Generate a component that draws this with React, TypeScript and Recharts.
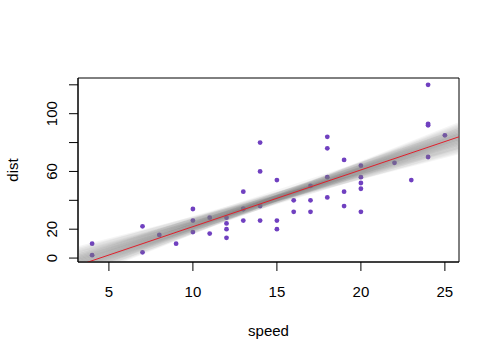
import { ComposedChart, Line, ReferenceArea, Scatter, XAxis, YAxis } from "recharts"

const speeds = [4, 4, 7, 7, 8, 9, 10, 10, 10, 11, 11, 12, 12, 12, 12, 13, 13, 13, 13, 14, 14, 14, 14, 15, 15, 15, 16, 16, 17, 17, 17, 18, 18, 18, 18, 19, 19, 19, 20, 20, 20, 20, 20, 22, 23, 24, 24, 24, 24, 25]
const dists = [2, 10, 4, 22, 16, 10, 18, 26, 34, 17, 28, 14, 20, 24, 28, 26, 34, 34, 46, 26, 36, 60, 80, 20, 26, 54, 32, 40, 32, 40, 50, 42, 56, 76, 84, 36, 46, 68, 32, 48, 52, 56, 64, 66, 54, 70, 92, 93, 120, 85]

// plot box range (R pads the data range by 4%)
const xDomain = [3.16, 25.84]
const yDomain = [-2.72, 124.72]
// red fitted line, dist at the two ends
const fitEnds = [-5.1, 84.0]
// grey bootstrap fits, dist at the left and right ends
const bootLeft = [-5, -2, -8, 0, -11, 3, -3, -7, 1, -9, 5, -13, -4, -1, -6, 2, -10, -2, 4, -7, -5, 0, -3, 6, -12, -4, -8, 1, -1, -6]
const bootRight = [84, 81, 87, 79, 90, 77, 83, 85, 82, 88, 75, 92, 86, 80, 83, 78, 86, 85, 80, 89, 81, 84, 78, 74, 91, 82, 84, 76, 87, 88]

const xTicks = [5, 10, 15, 20, 25]
const yTicks = [0, 20, 40, 60, 80, 100, 120]
const yLabels = [0, 20, 60, 100]

const points = speeds.map((s, i) => ({ speed: s, dist: dists[i] }))
const lines = xDomain.map((s, i) => {
  const row: Record<string, number> = { speed: s, fit: fitEnds[i] }
  bootLeft.forEach((v, j) => {
    row["b" + j] = i === 0 ? v : bootRight[j]
  })
  return row
})

const font = "'Liberation Sans', Arial, sans-serif"

const XTick = ({ x, payload }: any) => (
  <text x={x} y={297} textAnchor="middle" fontSize={15} fontFamily={font} fill="#000">
    {payload.value}
  </text>
)

const YTick = ({ y, payload }: any) => {
  if (!yLabels.includes(payload.value)) return <g />
  return (
    <text x={57} y={y} transform={`rotate(-90, 57, ${y})`} textAnchor="middle" fontSize={15} fontFamily={font} fill="#000">
      {payload.value}
    </text>
  )
}

const Dot = ({ cx, cy }: any) => <circle cx={cx} cy={cy} r={2.4} fill="#7040c0" />

export default function App() {
  return (
    <div style={{ position: "absolute", left: 0, top: 0, background: "#fff" }}>
      <ComposedChart width={500} height={360} data={lines} margin={{ top: 78, right: 41, bottom: 0, left: 0 }}>
        <XAxis
          dataKey="speed"
          type="number"
          domain={xDomain}
          ticks={xTicks}
          allowDataOverflow
          height={98}
          tickSize={9}
          tick={<XTick />}
          axisLine={{ stroke: "#000" }}
          tickLine={{ stroke: "#000" }}
          label={{
            content: () => (
              <text x={268.5} y={336} textAnchor="middle" fontSize={15} fontFamily={font} fill="#000">
                speed
              </text>
            ),
          }}
        />
        <YAxis
          type="number"
          domain={yDomain}
          ticks={yTicks}
          allowDataOverflow
          width={78}
          tickSize={9}
          tick={<YTick />}
          axisLine={{ stroke: "#000" }}
          tickLine={{ stroke: "#000" }}
          label={{
            content: () => (
              <text x={18} y={170} transform="rotate(-90, 18, 170)" textAnchor="middle" fontSize={15} fontFamily={font} fill="#000">
                dist
              </text>
            ),
          }}
        />
        <Scatter data={points} dataKey="dist" shape={<Dot />} isAnimationActive={false} zIndex={300} />
        {bootLeft.map((_, j) => (
          <Line
            key={j}
            dataKey={"b" + j}
            stroke="#808080"
            strokeOpacity={0.08}
            strokeWidth={6}
            dot={false}
            activeDot={false}
            isAnimationActive={false}
          />
        ))}
        <Line dataKey="fit" stroke="#e0202c" strokeWidth={1} dot={false} activeDot={false} isAnimationActive={false} />
        <ReferenceArea
          x1={xDomain[0]}
          x2={xDomain[1]}
          y1={yDomain[0]}
          y2={yDomain[1]}
          fill="none"
          stroke="#000"
          strokeWidth={1}
          ifOverflow="visible"
        />
      </ComposedChart>
    </div>
  )
}
